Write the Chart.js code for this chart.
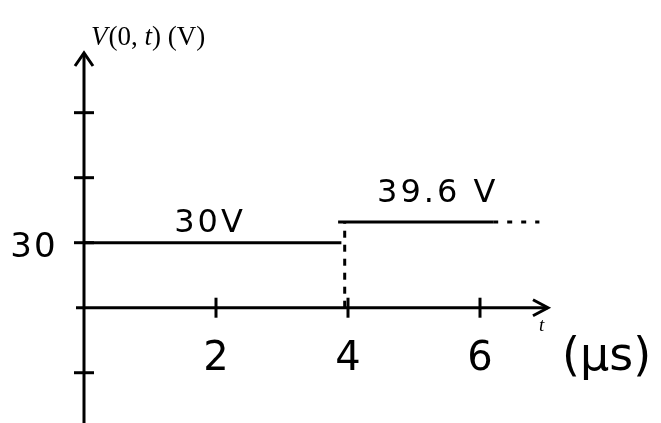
<!DOCTYPE html>
<html>
<head>
<meta charset="utf-8">
<script src="https://cdn.jsdelivr.net/npm/chart.js@4"></script>
<style>
  html, body { margin: 0; padding: 0; background: #ffffff; }
  #wrap { width: 661px; height: 423px; }
</style>
</head>
<body>
<div id="wrap"><canvas id="c" width="661" height="423"></canvas></div>
<script>
// Data
const tLow = [0, 3.9];
const vLow = [30, 30];
const tJump = [3.95, 3.95];
const vJump = [0, 39.6];
const tHigh = [3.85, 6.2];
const vHigh = [39.6, 39.6];
const tCont = [6.2, 6.9];
const vCont = [39.6, 39.6];

const xTicks = [2, 4, 6];
const xTickLabels = ['2', '4', '6'];
const yTicks = [-30, 30, 60, 90];
const yTickLabels = ['', '30', '', ''];

const lowLabel = '30V';
const highLabel = '39.6 V';
const yTitle = ['V', '(0, ', 't', ') (V)'];
const xTitleVar = 't';
const xTitleUnit = '(μs)';

const pts = (xs, ys) => xs.map((x, i) => ({ x: x, y: ys[i] }));

const HAND = '"DejaVu Sans", "Noto Sans", sans-serif';
const SERIF = '"Liberation Serif", "DejaVu Serif", serif';

const axesPlugin = {
  id: 'sketchAxes',
  afterDatasetsDraw(chart) {
    const ctx = chart.ctx;
    const xs = chart.scales.x, ys = chart.scales.y;
    const x0 = xs.getPixelForValue(0);
    const y0 = ys.getPixelForValue(0);
    const top = chart.chartArea.top;
    const bottom = chart.chartArea.bottom;
    const xEnd = xs.getPixelForValue(7.03);
    ctx.save();
    ctx.strokeStyle = '#000';
    ctx.fillStyle = '#000';
    ctx.lineWidth = 3;
    ctx.lineCap = 'butt';
    // y axis
    ctx.beginPath();
    ctx.moveTo(x0, bottom);
    ctx.lineTo(x0, top + 1);
    ctx.stroke();
    ctx.beginPath();
    ctx.moveTo(x0 - 9, top + 14);
    ctx.lineTo(x0, top + 1);
    ctx.lineTo(x0 + 9, top + 14);
    ctx.stroke();
    // x axis
    ctx.beginPath();
    ctx.moveTo(x0 - 8, y0);
    ctx.lineTo(xEnd, y0);
    ctx.stroke();
    ctx.beginPath();
    ctx.moveTo(xEnd - 15, y0 - 8);
    ctx.lineTo(xEnd, y0);
    ctx.lineTo(xEnd - 15, y0 + 8);
    ctx.stroke();
    // y ticks
    yTicks.forEach((v, i) => {
      const py = ys.getPixelForValue(v);
      ctx.beginPath();
      ctx.moveTo(x0 - 10, py);
      ctx.lineTo(x0 + 10, py);
      ctx.stroke();
      if (yTickLabels[i]) {
        ctx.font = '34px ' + HAND;
        ctx.letterSpacing = '2px';
        ctx.textAlign = 'center';
        ctx.textBaseline = 'middle';
        ctx.fillText(yTickLabels[i], x0 - 50, py + 5);
        ctx.letterSpacing = '0px';
      }
    });
    // x ticks
    xTicks.forEach((v, i) => {
      const px = xs.getPixelForValue(v);
      ctx.beginPath();
      ctx.moveTo(px, y0 - 10);
      ctx.lineTo(px, y0 + 10);
      ctx.stroke();
      ctx.font = '40px ' + HAND;
      ctx.textAlign = 'center';
      ctx.textBaseline = 'middle';
      ctx.fillText(xTickLabels[i], px, y0 + 52);
    });
    // x title
    ctx.textAlign = 'left';
    ctx.textBaseline = 'alphabetic';
    ctx.font = 'italic 19px ' + SERIF;
    ctx.fillText(xTitleVar, xEnd - 9, y0 + 23);
    ctx.font = '46px ' + HAND;
    ctx.fillText(xTitleUnit, xEnd + 14, y0 + 62);
    // y title (mixed italic)
    let tx = x0 + 7;
    const ty = 45;
    yTitle.forEach((s, i) => {
      ctx.font = (i % 2 === 0 ? 'italic ' : '') + '27px ' + SERIF;
      ctx.fillText(s, tx, ty);
      tx += ctx.measureText(s).width + (i === 0 ? 1 : 0);
    });
    // segment labels
    ctx.font = '32px ' + HAND;
    ctx.letterSpacing = '3px';
    ctx.textAlign = 'center';
    ctx.textBaseline = 'alphabetic';
    ctx.fillText(lowLabel, xs.getPixelForValue(1.91), ys.getPixelForValue(30) - 11);
    ctx.fillText(highLabel, xs.getPixelForValue(5.36), ys.getPixelForValue(39.6) - 20);
    ctx.letterSpacing = '0px';
    ctx.restore();
  }
};

const common = { borderColor: '#000', borderWidth: 3, pointRadius: 0, fill: false, tension: 0 };

new Chart(document.getElementById('c'), {
  type: 'line',
  data: {
    datasets: [
      Object.assign({ label: 'low', data: pts(tLow, vLow) }, common),
      Object.assign({ label: 'jump', data: pts(tJump, vJump), borderDash: [7, 7] }, common),
      Object.assign({ label: 'high', data: pts(tHigh, vHigh) }, common),
      Object.assign({ label: 'cont', data: pts(tCont, vCont), borderDash: [5, 9] }, common)
    ]
  },
  options: {
    responsive: false,
    animation: false,
    layout: { padding: { left: 84, top: 52, right: 16, bottom: 0 } },
    plugins: { legend: { display: false }, tooltip: { enabled: false } },
    scales: {
      x: { type: 'linear', min: 0, max: 8.5, display: false },
      y: { type: 'linear', min: -53.2, max: 118, display: false }
    }
  },
  plugins: [axesPlugin]
});
</script>
</body>
</html>
